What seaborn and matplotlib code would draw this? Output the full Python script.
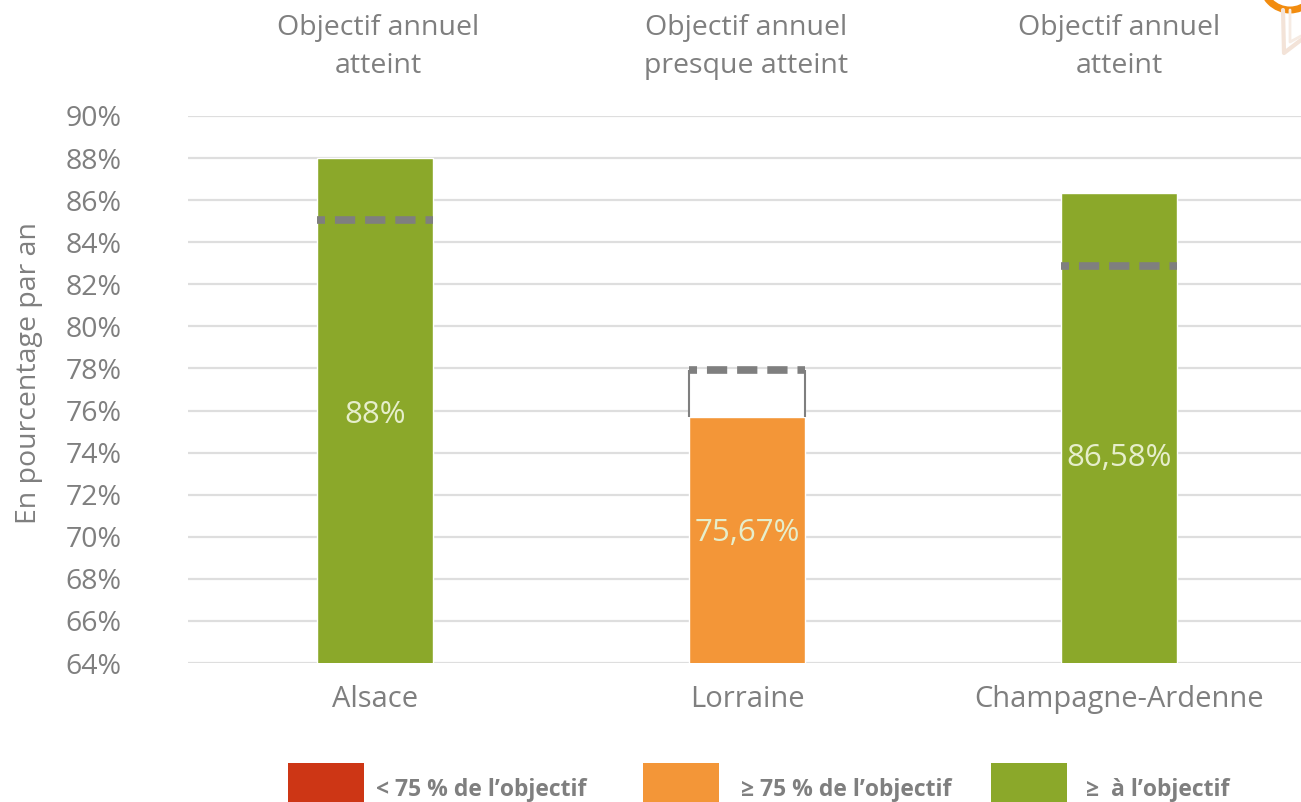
import numpy as np
import pandas as pd
import seaborn as sns
import matplotlib.pyplot as plt
from matplotlib.patches import Rectangle, Circle
from matplotlib.lines import Line2D

# -----------------------------
# Data
# -----------------------------
regions = ['Alsace', 'Lorraine', 'Champagne-Ardenne']
values = [88.0, 75.67, 86.33]
targets = [85.05, 77.95, 82.87]
value_labels = ['88%', '75,67%', '86,58%']
status = ['Objectif annuel\natteint', 'Objectif annuel\npresque atteint', 'Objectif annuel\natteint']
y_ticks = list(range(64, 92, 2))
legend_labels = ['< 75 % de l’objectif', '≥ 75 % de l’objectif', '≥  à l’objectif']

RED = '#CD3615'
ORANGE = '#F39638'
GREEN = '#8BA82A'
GREY = '#7f7f7f'
bar_colors = [GREEN, ORANGE, GREEN]

W, H = 1301, 802

sns.set_theme(style='white')
plt.rcParams['font.family'] = ['Open Sans', 'DejaVu Sans']

fig = plt.figure(figsize=(W / 100, H / 100), dpi=100)
ax = fig.add_axes([188 / W, 1 - 663 / H, (W - 188) / W, 547 / H])

df = pd.DataFrame({'region': regions, 'value': values})
sns.barplot(data=df, x='region', y='value', hue='region', palette=bar_colors,
            legend=False, width=0.312, saturation=1, ax=ax, zorder=3)

ax.set_xlim(-0.503, 2.489)
ax.set_ylim(64, 90)
ax.set_yticks(y_ticks)
ax.set_yticklabels([f'{t}%' for t in y_ticks], fontsize=20.5, color=GREY)
ax.set_xticks(range(3))
ax.set_xticklabels(regions, fontsize=21, color=GREY)
ax.tick_params(axis='y', length=0, pad=48)
ax.tick_params(axis='x', length=0, pad=16)
ax.set_xlabel('')
ax.set_ylabel('')
sns.despine(ax=ax, left=True, right=True, top=True, bottom=True)
ax.grid(axis='y', color='#dedede', lw=1.6, zorder=0)
ax.grid(axis='x', visible=False)
ax.set_axisbelow(True)

# target gap box for Lorraine + dashed target lines
bars = ax.patches[:3]
for bar, val, tgt in zip(bars, values, targets):
    x0, x1 = bar.get_x(), bar.get_x() + bar.get_width()
    if tgt > val:
        ax.bar(bar.get_x() + bar.get_width() / 2, tgt - val, bottom=val, width=bar.get_width(),
               color='white', zorder=2)
        ax.vlines([x0, x1], val, tgt, color=GREY, lw=1.5, zorder=4)
    ax.hlines(tgt, x0, x1, color=GREY, lw=5.5, linestyles=(1.6, (2.65, 1.3)), zorder=5)

for i, (lab, y) in enumerate(zip(value_labels, [75.8, 70.2, 73.75])):
    ax.text(i, y, lab, ha='center', va='center', fontsize=22.5, color='#e6eecb', zorder=6)

for i, txt in enumerate(status):
    fig.text(([378, 746, 1119][i]) / W, 1 - 47 / H, txt, ha='center', va='center',
             fontsize=20.5, color=GREY, linespacing=1.5)

fig.text(29 / W, 1 - 373 / H, 'En pourcentage par an', rotation=90, ha='center', va='center',
         fontsize=20.5, color=GREY)

# legend along the bottom
for col, lab, x0, xt in zip([RED, ORANGE, GREEN], legend_labels, [288, 643, 991], [376, 741, 1086]):
    fig.add_artist(Rectangle((x0 / W, 0), 76 / W, 39 / H, transform=fig.transFigure,
                             facecolor=col, edgecolor='none'))
    fig.text(xt / W, 1 - 790 / H, lab, ha='left', va='center', fontsize=16.5,
             fontweight='bold', color=GREY)

# cropped logo in the top right corner
fig.add_artist(Line2D([1283 / W, 1284 / W, 1301 / W], [1 - 10 / H, 1 - 53 / H, 1 - 40 / H],
                      color='#f3e3d8', lw=3, transform=fig.transFigure))
fig.add_artist(Line2D([1290 / W, 1290 / W, 1301 / W], [1 - 10 / H, 1 - 42 / H, 1 - 36 / H],
                      color='#f6ebe3', lw=2, transform=fig.transFigure))
fig.add_artist(Circle((1290, H + 18), 28, transform=None, facecolor='none',
                      edgecolor='#F28C0F', lw=5))

fig.savefig('out.png', dpi=100)
